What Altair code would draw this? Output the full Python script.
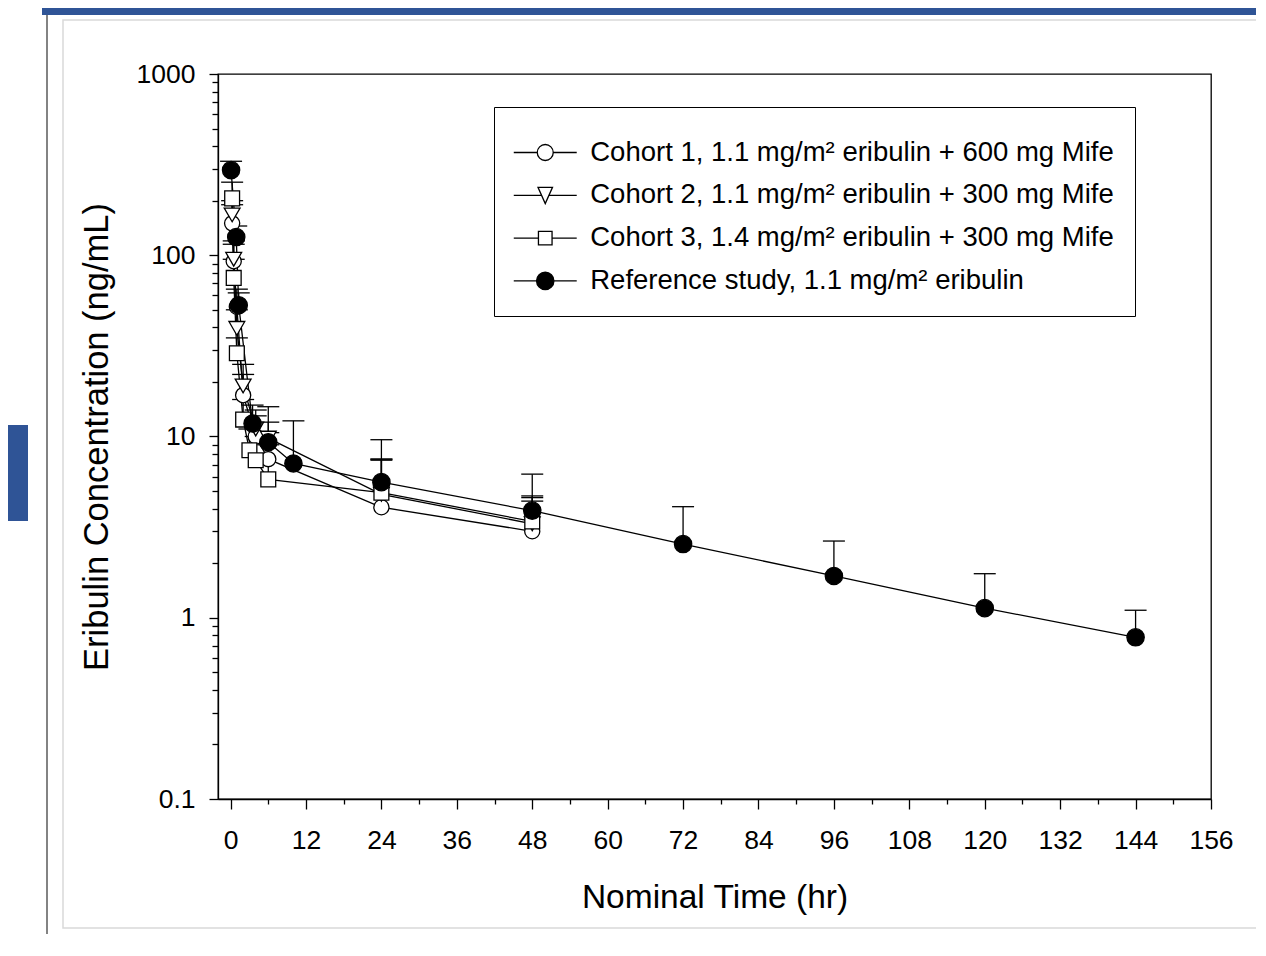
import altair as alt
import pandas as pd

FONT = "Liberation Sans, Arial, sans-serif"

series_names = [
    "Cohort 1, 1.1 mg/m² eribulin + 600 mg Mife",
    "Cohort 2, 1.1 mg/m² eribulin + 300 mg Mife",
    "Cohort 3, 1.4 mg/m² eribulin + 300 mg Mife",
    "Reference study, 1.1 mg/m² eribulin",
]

# Cohort 1 (open circles)
c1_time = [0.25, 0.5, 1, 2, 4, 6, 24, 48]
c1_conc = [150, 92.7, 52, 16.9, 10.0, 7.5, 4.07, 3.0]
c1_upper = [190, 115, 65, 22, 13, 10.5, 7.4, 4.4]

# Cohort 2 (open triangles)
c2_time = [0.25, 0.5, 1, 2, 4, 6, 24, 48]
c2_conc = [167, 95, 39.5, 19, 11, 9.8, 4.8, 3.3]
c2_upper = [200, 120, 50, 25, 14, 12, 7.5, 4.6]

# Cohort 3 (open squares)
c3_time = [0.25, 0.5, 1, 2, 3, 4, 6, 24, 48]
c3_conc = [206, 75, 28.8, 12.4, 8.4, 7.4, 5.8, 4.9, 3.4]
c3_upper = [253, 95, 35, 16, 11, 10, 9, 7.5, 4.7]

# Reference study (filled circles)
ref_time = [0.08, 0.9, 1.3, 3.5, 6, 10, 24, 48, 72, 96, 120, 144]
ref_conc = [295, 126, 53, 11.8, 9.3, 7.1, 5.6, 3.9, 2.55, 1.70, 1.13, 0.78]
ref_upper = [330, 145, 62, 14.9, 14.6, 12.2, 9.6, 6.2, 4.1, 2.65, 1.75, 1.1]

x_major = list(range(0, 157, 12))
x_minor = list(range(6, 151, 12))
y_major = [0.1, 1, 10, 100, 1000]
y_minor = [m * d for d in [0.1, 1, 10, 100] for m in range(2, 10)]

rows = []
for name, ts, vs, us in zip(
    series_names,
    [c1_time, c2_time, c3_time, ref_time],
    [c1_conc, c2_conc, c3_conc, ref_conc],
    [c1_upper, c2_upper, c3_upper, ref_upper],
):
    for t, v, u in zip(ts, vs, us):
        rows.append({"series": name, "time": t, "conc": v, "upper": u})
df = pd.DataFrame(rows)

# legend-only rows, placed outside the x domain (clipped away)
legend_df = pd.DataFrame({"series": series_names, "time": [-50] * 4, "conc": [1] * 4})

xscale = alt.Scale(domain=[-2, 156], nice=False, zero=False)
yscale = alt.Scale(type="log", domain=[0.1, 1000], nice=False)

LW = 1.3

def X(axis=None):
    return alt.X("time:Q", scale=xscale, axis=axis)

def Y(axis=None, field="conc:Q"):
    return alt.Y(field, scale=yscale, axis=axis)

x_major_axis = alt.Axis(
    values=x_major, tickSize=10, tickWidth=LW, tickColor="black",
    domainColor="black", domainWidth=LW, grid=False,
    labelFont=FONT, labelFontSize=26.5, labelColor="black", labelPadding=18,
    labelFlush=False, labelOverlap=False,
    title="Nominal Time (hr)", titleFont=FONT, titleFontSize=33.5,
    titleFontWeight="normal", titleColor="black", titlePadding=28, orient="bottom",
)
x_minor_axis = alt.Axis(
    values=x_minor, tickSize=5, tickWidth=LW, tickColor="black",
    domain=False, labels=False, grid=False, title=None, orient="bottom",
)
y_major_axis = alt.Axis(
    values=y_major, format="~g", tickSize=9, tickWidth=LW, tickColor="black",
    domainColor="black", domainWidth=LW, grid=False,
    labelFont=FONT, labelFontSize=26.5, labelColor="black", labelPadding=14,
    labelFlush=False, labelOverlap=False,
    title="Eribulin Concentration (ng/mL)", titleFont=FONT, titleFontSize=34.5,
    titleFontWeight="normal", titleColor="black", titlePadding=22, orient="left",
)
y_minor_axis = alt.Axis(
    values=y_minor, tickSize=6, tickWidth=LW, tickColor="black",
    domain=False, labels=False, grid=False, title=None, orient="left",
)

base = alt.Chart(df)

# error bars (upper only) with caps
err = base.mark_rule(color="black", strokeWidth=LW).encode(
    x=X(x_minor_axis), y=Y(y_minor_axis), y2="upper:Q"
)
caps = base.mark_rule(color="black", strokeWidth=LW, xOffset=-11, x2Offset=11).encode(
    x=X(), x2="time:Q", y=Y(field="upper:Q")
)
lines = base.mark_line(color="black", strokeWidth=LW).encode(
    x=X(x_major_axis), y=Y(y_major_axis), detail="series:N"
)

marker_styles = [
    ("circle", "white", 230),
    ("triangle-down", "white", 250),
    ("square", "white", 220),
    ("circle", "black", 300),
]
point_layers = []
for name, (shape, fill, size) in zip(series_names, marker_styles):
    point_layers.append(
        base.transform_filter(alt.datum.series == name)
        .mark_point(shape=shape, filled=True, fill=fill, stroke="black",
                    strokeWidth=LW, size=size, opacity=1)
        .encode(x=X(), y=Y())
    )

# legend symbols: a line through the marker (unit = sqrt(symbolSize)/2 px)
r = 0.582
rf = 0.63
legend_paths = [
    f"M-2.29,0H-{r}M{r},0H2.29M-{r},0A{r},{r} 0 1,0 {r},0A{r},{r} 0 1,0 -{r},0Z",
    "M-2.29,0H-0.268M0.268,0H2.29M-0.527,-0.58L0.527,-0.58L0,0.6Z",
    "M-2.29,0H-0.495M0.495,0H2.29M-0.495,-0.495H0.495V0.495H-0.495Z",
    f"M-2.29,0H-{rf}M{rf},0H2.29M-{rf},0A{rf},{rf} 0 1,0 {rf},0A{rf},{rf} 0 1,0 -{rf},0Z",
]
leg = alt.Legend(
    orient="none", legendX=276, legendY=33, title=" ", titleFontSize=8, titlePadding=2,
    strokeColor="black", fillColor="white", padding=21,
    labelFont=FONT, labelFontSize=27.5, labelColor="black", labelLimit=2000,
    symbolSize=756, symbolStrokeWidth=LW, symbolStrokeColor="black",
    rowPadding=14.8, labelOffset=30.5, symbolOffset=15.75, direction="vertical",
)
legend_layer = alt.Chart(legend_df).mark_point(
    filled=True, strokeWidth=LW, opacity=1, clip=True
).encode(
    x=X(), y=Y(),
    shape=alt.Shape("series:N", scale=alt.Scale(domain=series_names, range=legend_paths), legend=leg),
    fill=alt.Fill("series:N", scale=alt.Scale(domain=series_names, range=["white", "white", "white", "black"]), legend=leg),
    stroke=alt.Stroke("series:N", scale=alt.Scale(domain=series_names, range=["black", "black", "black", "black"]), legend=leg),
)

# page decorations (slide frame around the figure)
one = pd.DataFrame({"k": [0]})
deco = [
    alt.Chart(one).mark_rect(color="#2F5496", clip=False).encode(
        x=alt.value(-176), x2=alt.value(1060), y=alt.value(-70), y2=alt.value(-59)),
    alt.Chart(one).mark_rect(color="#2F5496", clip=False).encode(
        x=alt.value(-215), x2=alt.value(-190), y=alt.value(351), y2=alt.value(447)),
    alt.Chart(one).mark_rule(color="#5a5a5a", strokeWidth=1.5, clip=False).encode(
        x=alt.value(-171), y=alt.value(-59), y2=alt.value(900)),
    alt.Chart(one).mark_rect(fill="white", fillOpacity=0, stroke="#d9d9d9", strokeWidth=1.5, clip=False).encode(
        x=alt.value(-155), x2=alt.value(1080), y=alt.value(-54), y2=alt.value(854)),
]

chart = alt.layer(
    *deco, err, caps, lines, *point_layers, legend_layer
).resolve_axis(
    x="independent", y="independent"
).properties(
    width=993, height=725,
    background="white",
    autosize=alt.AutoSizeParams(type="none"),
    padding={"left": 210, "top": 66, "right": 45, "bottom": 135},
).configure_view(
    stroke="black", strokeWidth=LW
)

chart.save("out.html", embed_options={"renderer": "svg", "actions": False})
